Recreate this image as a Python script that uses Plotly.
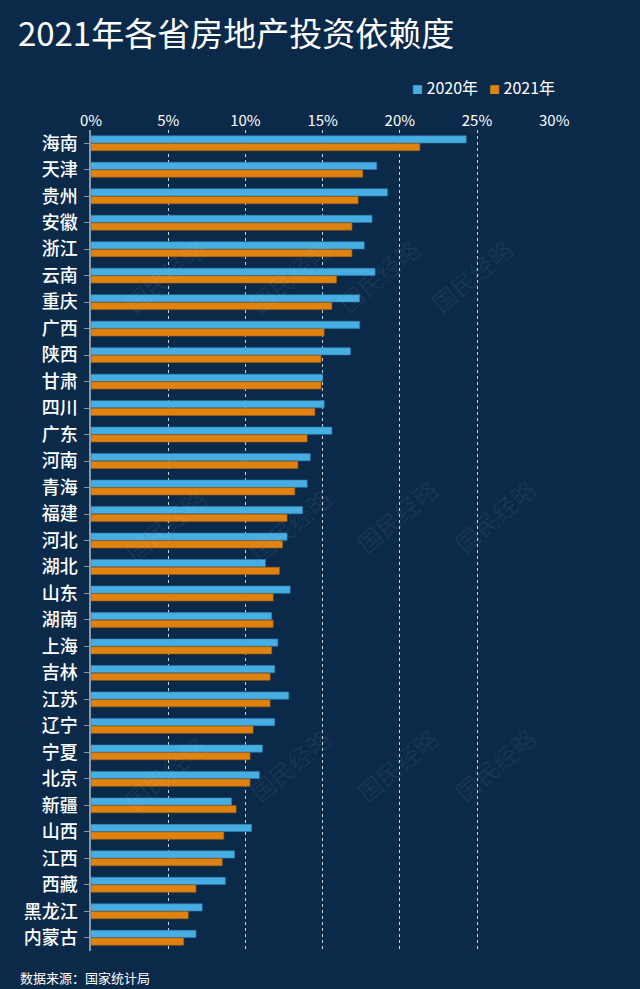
import plotly.graph_objects as go

provinces = ["海南", "天津", "贵州", "安徽", "浙江", "云南", "重庆", "广西", "陕西", "甘肃",
             "四川", "广东", "河南", "青海", "福建", "河北", "湖北", "山东", "湖南", "上海",
             "吉林", "江苏", "辽宁", "宁夏", "北京", "新疆", "山西", "江西", "西藏", "黑龙江", "内蒙古"]
v2020 = [24.3, 18.5, 19.2, 18.2, 17.7, 18.4, 17.4, 17.4, 16.8, 15.0,
         15.1, 15.6, 14.2, 14.0, 13.7, 12.7, 11.3, 12.9, 11.7, 12.1,
         11.9, 12.8, 11.9, 11.1, 10.9, 9.1, 10.4, 9.3, 8.7, 7.2, 6.8]
v2021 = [21.3, 17.6, 17.3, 16.9, 16.9, 15.9, 15.6, 15.1, 14.9, 14.9,
         14.5, 14.0, 13.4, 13.2, 12.7, 12.4, 12.2, 11.8, 11.8, 11.7,
         11.6, 11.6, 10.5, 10.3, 10.3, 9.4, 8.6, 8.5, 6.8, 6.3, 6.0]
series_names = ["2020年", "2021年"]
tick_vals = [0, 5, 10, 15, 20, 25, 30]
tick_text = ["0%", "5%", "10%", "15%", "20%", "25%", "30%"]

BG = "#0b2a4a"
BLUE = "#46aee2"
ORANGE = "#e0820f"
FONT = "Noto Sans CJK SC"

fig = go.Figure()
fig.add_trace(go.Bar(y=provinces, x=v2020, orientation="h", name=series_names[0],
                     marker=dict(color=BLUE, line=dict(color="#2f7fb0", width=0.6))))
fig.add_trace(go.Bar(y=provinces, x=v2021, orientation="h", name=series_names[1],
                     marker=dict(color=ORANGE, line=dict(color="#a85f0a", width=0.6))))

fig.update_layout(
    width=640, height=989,
    paper_bgcolor=BG, plot_bgcolor=BG,
    font=dict(family=FONT, color="white"),
    barmode="group", bargap=0.42, bargroupgap=0.06,
    margin=dict(l=91, r=85, t=130, b=38),
    title=dict(text="2021年各省房地产投资依赖度", x=0.028, xanchor="left",
               y=0.965, yanchor="middle", font=dict(size=33, color="white", family=FONT)),
    showlegend=False,
    xaxis=dict(side="top", range=[0, 30.05], tickvals=tick_vals, ticktext=tick_text,
               showgrid=True, gridcolor="rgba(255,255,255,0.8)", griddash="3px,3px", gridwidth=1,
               zeroline=False, showline=False, ticks="",
               tickfont=dict(size=15, color="white", family=FONT), fixedrange=True),
    yaxis=dict(autorange="reversed", showline=True, linecolor="#8a99a8", linewidth=1.5,
               ticks="outside", ticklen=5, tickcolor="#8a99a8", tickwidth=1,
               tickfont=dict(size=18, color="white", family=FONT, weight=500), showgrid=False,
               ticklabelstandoff=3),
)

# legend drawn as text entries (small coloured squares + labels)
legend_x = [(410 - 91) / 464, (487 - 91) / 464]
for nm, col, lx in zip(series_names, [BLUE, ORANGE], legend_x):
    fig.add_annotation(text=f"<span style='color:{col};font-size:11px'>■</span> {nm}",
                       x=lx, y=1 + (130 - 87) / 821, xref="paper", yref="paper",
                       xanchor="left", yanchor="middle", showarrow=False,
                       font=dict(size=16, color="white", family=FONT))

# faint watermarks
wm_pos = [(0.05, 0.88), (0.32, 0.88), (0.62, 0.88), (0.93, 0.88),
          (0.05, 0.52), (0.32, 0.52), (0.66, 0.53), (0.98, 0.53),
          (0.05, 0.16), (0.32, 0.17), (0.66, 0.17), (0.98, 0.17)]
for (px, py) in wm_pos:
    fig.add_annotation(text="国民经略", x=px, y=py, xref="paper", yref="paper",
                       showarrow=False, textangle=-40,
                       font=dict(size=24, color="rgba(255,255,255,0.06)", family=FONT))

fig.add_annotation(text="数据来源：国家统计局", x=(18 - 91) / 464, y=-(978 - 951) / 821,
                   xref="paper", yref="paper", xanchor="left", yanchor="middle",
                   showarrow=False, font=dict(size=13, color="white", family=FONT))

fig.write_html("out.html", post_script="document.body.style.margin='0';",
               config={"displayModeBar": False})
